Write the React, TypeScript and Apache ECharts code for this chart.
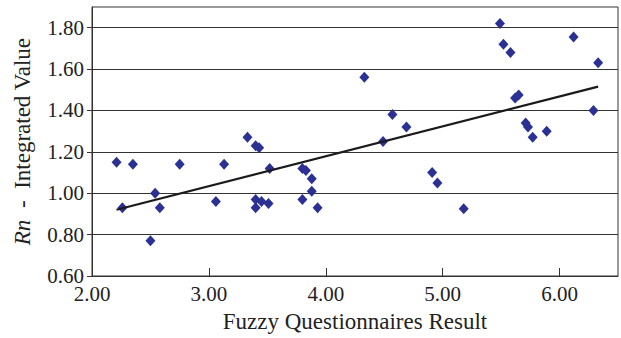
import React, { useEffect, useRef } from "react";
import * as echarts from "echarts";

const xValues = [2.21, 2.26, 2.35, 2.5, 2.54, 2.58, 2.75, 3.06, 3.13, 3.33, 3.4, 3.43, 3.4, 3.45, 3.4, 3.51, 3.52, 3.8, 3.83, 3.8, 3.88, 3.88, 3.93, 4.33, 4.49, 4.57, 4.69, 4.91, 4.955, 5.18, 5.49, 5.52, 5.58, 5.62, 5.65, 5.71, 5.73, 5.77, 5.89, 6.12, 6.29, 6.33];
const yValues = [1.15, 0.93, 1.14, 0.77, 1.0, 0.93, 1.14, 0.96, 1.14, 1.27, 1.23, 1.22, 0.97, 0.96, 0.93, 0.95, 1.12, 1.12, 1.11, 0.97, 1.07, 1.01, 0.93, 1.56, 1.25, 1.38, 1.32, 1.1, 1.05, 0.925, 1.82, 1.72, 1.68, 1.46, 1.475, 1.34, 1.32, 1.27, 1.3, 1.755, 1.4, 1.63];
const trendX = [2.21, 6.33];
const trendY = [0.92, 1.515];
const yTicks = [0.6, 0.8, 1.0, 1.2, 1.4, 1.6, 1.8];
const xTicks = [2, 3, 4, 5, 6];

const FONT = "Liberation Serif";

export default function App() {
  const ref = useRef<HTMLDivElement>(null);
  useEffect(() => {
    if (!ref.current) return;
    const chart = echarts.init(ref.current, null, { renderer: "svg" });
    const points = xValues.map((x, i) => [x, yValues[i]]);
    const trend = trendX.map((x, i) => [x, trendY[i]]);
    chart.setOption({
      animation: false,
      backgroundColor: "#ffffff",
      textStyle: { fontFamily: FONT },
      grid: {
        left: 92,
        right: 2,
        top: 7,
        bottom: 62,
        show: true,
        borderColor: "#333",
        borderWidth: 1,
        backgroundColor: "transparent",
      },
      xAxis: {
        type: "value",
        min: 2,
        max: 6.5,
        interval: 1,
        name: "Fuzzy Questionnaires Result",
        nameLocation: "middle",
        nameGap: 34,
        nameTextStyle: { fontFamily: FONT, fontSize: 23, color: "#222" },
        axisLine: { show: true, lineStyle: { color: "#333", width: 1 } },
        axisTick: { show: true, inside: true, length: 8, customValues: xTicks, lineStyle: { color: "#333" } },
        axisLabel: {
          fontFamily: FONT,
          fontSize: 21,
          color: "#222",
          margin: 7,
          formatter: (v: number) => (v > 6.2 ? "" : v.toFixed(2)),
        },
        splitLine: { show: false },
      },
      yAxis: {
        type: "value",
        min: 0.6,
        max: 1.9,
        interval: 0.2,
        name: "{i|Rn}  -  Integrated Value",
        nameLocation: "middle",
        nameGap: 58,
        nameRotate: 90,
        nameTextStyle: {
          fontFamily: FONT,
          fontSize: 23,
          color: "#222",
          rich: { i: { fontStyle: "italic", fontFamily: FONT, fontSize: 23, color: "#222" } },
        },
        axisLine: { show: true, lineStyle: { color: "#333", width: 1 } },
        axisTick: { show: true, inside: false, length: 5, customValues: yTicks, lineStyle: { color: "#333" } },
        axisLabel: {
          fontFamily: FONT,
          fontSize: 21,
          color: "#222",
          margin: 8,
          formatter: (v: number) => (v > 1.85 ? "" : v.toFixed(2)),
        },
        splitLine: { show: true, lineStyle: { color: "#333", width: 1 } },
      },
      series: [
        {
          type: "scatter",
          data: points,
          symbol: "diamond",
          symbolSize: [10, 11],
          itemStyle: { color: "#2B3192", opacity: 1 },
          z: 3,
        },
        {
          type: "line",
          data: trend,
          showSymbol: false,
          symbol: "none",
          lineStyle: { color: "#1a1a1a", width: 2.2 },
          z: 4,
        },
      ],
    });
    return () => chart.dispose();
  }, []);
  return (
    <div
      ref={ref}
      style={{ position: "fixed", left: 0, top: 0, width: 621, height: 338 }}
    />
  );
}
